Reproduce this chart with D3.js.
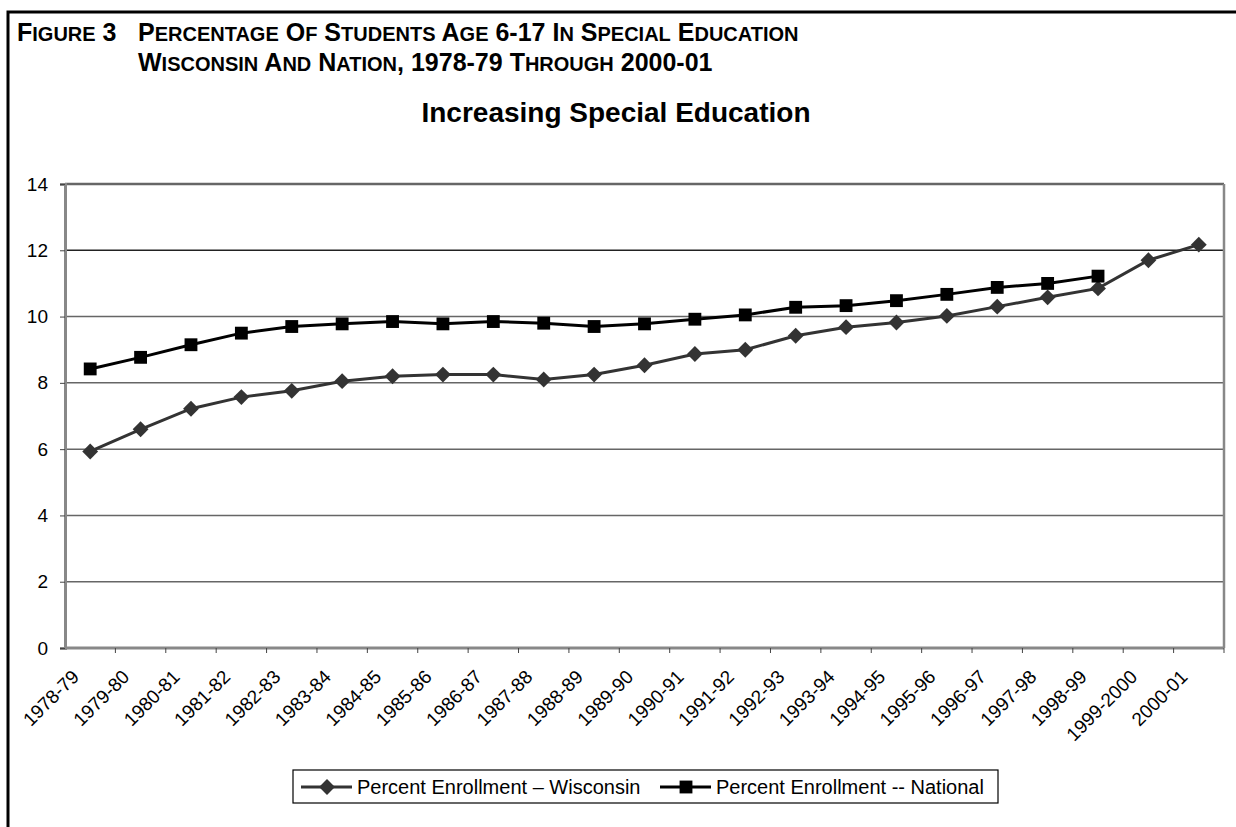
<!DOCTYPE html>
<html>
<head>
<meta charset="utf-8">
<script src="https://cdn.jsdelivr.net/npm/d3@7"></script>
<style>
  body { margin: 0; background: #fff; }
  svg { display: block; }
</style>
</head>
<body>
<div id="chart"></div>
<script>
const width = 1236;
const height = 827;

const years = [
  "1978-79", "1979-80", "1980-81", "1981-82", "1982-83", "1983-84",
  "1984-85", "1985-86", "1986-87", "1987-88", "1988-89", "1989-90",
  "1990-91", "1991-92", "1992-93", "1993-94", "1994-95", "1995-96",
  "1996-97", "1997-98", "1998-99", "1999-2000", "2000-01"
];
const wisconsin = [
  5.93, 6.6, 7.22, 7.57, 7.76, 8.05, 8.2, 8.25, 8.25, 8.1, 8.25, 8.53,
  8.87, 9.0, 9.42, 9.68, 9.82, 10.02, 10.3, 10.58, 10.85, 11.7, 12.17
];
const national = [
  8.42, 8.77, 9.15, 9.5, 9.7, 9.78, 9.85, 9.78, 9.85, 9.8, 9.7, 9.78,
  9.92, 10.05, 10.28, 10.33, 10.48, 10.67, 10.88, 11.0, 11.22
];
const yTicks = [0, 2, 4, 6, 8, 10, 12, 14];
const seriesNames = ["Percent Enrollment \u2013 Wisconsin", "Percent Enrollment -- National"];

const margin = { top: 184, right: 12, bottom: 179, left: 65 };
const plotW = width - margin.left - margin.right;
const plotH = height - margin.top - margin.bottom;

const svg = d3
  .select("#chart")
  .append("svg")
  .attr("width", width)
  .attr("height", height)
  .style("font-family", "Arial, 'Liberation Sans', sans-serif");

// page frame (left and top rule)
svg.append("path")
  .attr("d", `M8,${height} V12 H${width}`)
  .attr("fill", "none")
  .attr("stroke", "#000")
  .attr("stroke-width", 3);

// figure heading in small caps
const heading = svg.append("g")
  .style("font-weight", "bold")
  .attr("fill", "#000");

function smallCaps(textEl, str, big, small) {
  const tokens = str.match(/[A-Za-z]+|[^A-Za-z]+/g);
  tokens.forEach((tok) => {
    if (/^[A-Za-z]+$/.test(tok)) {
      textEl.append("tspan").style("font-size", big + "px").text(tok[0].toUpperCase());
      if (tok.length > 1) {
        textEl.append("tspan").style("font-size", small + "px").text(tok.slice(1).toUpperCase());
      }
    } else {
      textEl.append("tspan").style("font-size", big + "px").text(tok);
    }
  });
}

const h1 = heading.append("text").attr("x", 17).attr("y", 41);
smallCaps(h1, "Figure 3", 25, 20);
const h1b = heading.append("text").attr("x", 138).attr("y", 41);
smallCaps(h1b, "Percentage of Students Age 6-17 in Special Education", 25, 20);
const h2 = heading.append("text").attr("x", 138).attr("y", 71);
smallCaps(h2, "Wisconsin and Nation, 1978-79 Through 2000-01", 25, 20);

svg.append("text")
  .attr("x", 616)
  .attr("y", 122)
  .attr("text-anchor", "middle")
  .style("font-size", "28px")
  .style("font-weight", "bold")
  .text("Increasing Special Education");

const g = svg.append("g").attr("transform", `translate(${margin.left},${margin.top})`);

const x = d3.scaleBand().domain(years).range([0, plotW]);
const y = d3.scaleLinear().domain([0, 14]).range([plotH, 0]);

// gridlines
g.append("g")
  .selectAll("line")
  .data(yTicks.filter((d) => d > 0))
  .join("line")
  .attr("x1", 0)
  .attr("x2", plotW)
  .attr("y1", (d) => y(d))
  .attr("y2", (d) => y(d))
  .attr("stroke", (d) => (d === 12 ? "#222" : "#666"))
  .attr("stroke-width", (d) => (d === 14 ? 2.5 : 1.5));

// right border of plot area
g.append("line")
  .attr("x1", plotW).attr("x2", plotW)
  .attr("y1", 0).attr("y2", plotH)
  .attr("stroke", "#888")
  .attr("stroke-width", 2.5);

// y axis
const yAxis = g.append("g")
  .call(d3.axisLeft(y).tickValues(yTicks).tickSize(5).tickPadding(12));
yAxis.select(".domain").attr("stroke", "#888").attr("stroke-width", 3);
yAxis.selectAll(".tick line").attr("stroke", "#444");
yAxis.selectAll("text")
  .style("font-size", "19px")
  .style("font-family", "Arial, 'Liberation Sans', sans-serif")
  .attr("fill", "#000");

// x axis: ticks between categories
const xAxis = g.append("g").attr("transform", `translate(0,${plotH})`);
xAxis.append("line")
  .attr("x1", 0).attr("x2", plotW)
  .attr("stroke", "#888").attr("stroke-width", 3);
xAxis.selectAll("line.tk")
  .data(years)
  .join("line")
  .attr("class", "tk")
  .attr("x1", (d) => x(d) + x.bandwidth())
  .attr("x2", (d) => x(d) + x.bandwidth())
  .attr("y1", 0)
  .attr("y2", 5)
  .attr("stroke", "#444");
xAxis.selectAll("text")
  .data(years)
  .join("text")
  .attr("transform", (d) => `translate(${x(d) + x.bandwidth() / 2 - 10},${30}) rotate(-45)`)
  .attr("text-anchor", "end")
  .style("font-size", "19px")
  .attr("fill", "#000")
  .text((d) => d);

const cx = (i) => x(years[i]) + x.bandwidth() / 2;

const line = d3.line()
  .x((d, i) => cx(i))
  .y((d) => y(d));

const diamond = d3.symbol().type(d3.symbolDiamond2).size(160);
const square = d3.symbol().type(d3.symbolSquare).size(165);

// Wisconsin
g.append("path")
  .datum(wisconsin)
  .attr("d", line)
  .attr("fill", "none")
  .attr("stroke", "#333")
  .attr("stroke-width", 3);
g.append("g")
  .selectAll("path")
  .data(wisconsin)
  .join("path")
  .attr("transform", (d, i) => `translate(${cx(i)},${y(d)})`)
  .attr("d", diamond)
  .attr("fill", "#333");

// National
g.append("path")
  .datum(national)
  .attr("d", line)
  .attr("fill", "none")
  .attr("stroke", "#000")
  .attr("stroke-width", 3);
g.append("g")
  .selectAll("path")
  .data(national)
  .join("path")
  .attr("transform", (d, i) => `translate(${cx(i)},${y(d)})`)
  .attr("d", square)
  .attr("fill", "#000");

// legend
const legend = svg.append("g").attr("transform", "translate(293,770)");
legend.append("rect")
  .attr("width", 705)
  .attr("height", 33)
  .attr("fill", "#fff")
  .attr("stroke", "#000")
  .attr("stroke-width", 1.2);

const legendItems = [
  { name: seriesNames[0], x: 8, sym: diamond, color: "#333" },
  { name: seriesNames[1], x: 367, sym: square, color: "#000" },
];
legendItems.forEach((it) => {
  const lg = legend.append("g").attr("transform", `translate(${it.x},17)`);
  lg.append("line").attr("x1", 0).attr("x2", 51).attr("stroke", it.color).attr("stroke-width", 3);
  lg.append("path").attr("transform", "translate(26,0)").attr("d", it.sym).attr("fill", it.color);
  lg.append("text")
    .attr("x", 56)
    .attr("y", 7)
    .style("font-size", "20px")
    .text(it.name);
});
</script>
</body>
</html>
